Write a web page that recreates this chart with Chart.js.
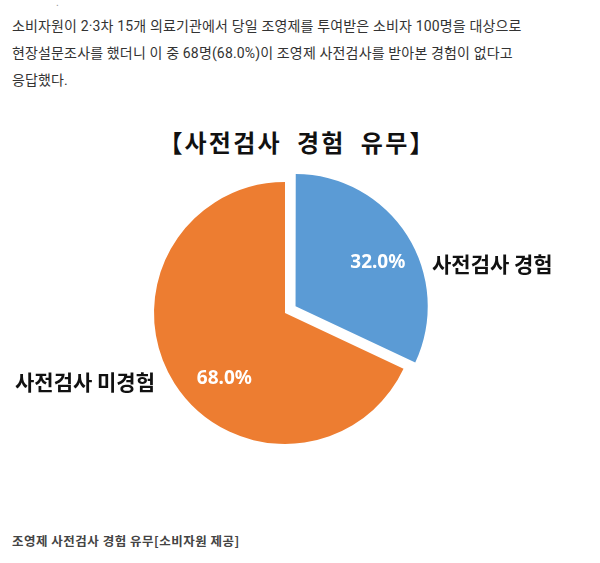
<!DOCTYPE html>
<html>
<head>
<meta charset="utf-8">
<script src="https://cdn.jsdelivr.net/npm/chart.js@4.4.1/dist/chart.umd.min.js"></script>
<style>
  body { margin: 0; background: #fff; font-family: "Noto Sans CJK KR", sans-serif; }
  .page { position: relative; width: 600px; height: 563px; overflow: hidden; }
  .lead { position: absolute; left: 12px; top: 13px; width: 590px; font-family: Roboto, "Noto Sans CJK KR", sans-serif; font-size: 14px; line-height: 27px; color: #333; margin: 0; letter-spacing: 0.15px; white-space: nowrap; }
  .dot { position: absolute; left: 56px; top: -6px; font-size: 10px; color: #999; }
  .title { position: absolute; left: 0; width: 594px; top: 124px; text-align: center; font-size: 24px; font-weight: bold; color: #111; letter-spacing: 2.2px; }
  #wrap { position: absolute; left: 0; top: 100px; width: 600px; height: 400px; }
  .caption { position: absolute; left: 12px; top: 531px; font-size: 12.5px; font-weight: bold; color: #444; letter-spacing: 0.5px; }
</style>
</head>
<body>
<div class="page">
  <span class="dot">.</span>
  <p class="lead">소비자원이 2·3차 15개 의료기관에서 당일 조영제를 투여받은 소비자 100명을 대상으로<br>현장설문조사를 했더니 이 중 68명(68.0%)이 조영제 사전검사를 받아본 경험이 없다고<br>응답했다.</p>
  <div class="title">【사전검사&nbsp; 경험&nbsp; 유무】</div>
  <div id="wrap"><canvas id="my-chart" width="600" height="400"></canvas></div>
  <div class="caption">조영제 사전검사 경험 유무[소비자원 제공]</div>
</div>
<script>
const categories = ['사전검사 경험', '사전검사 미경험'];
const shares = [32.0, 68.0];
const colors = ['#5B9BD5', '#ED7D31'];

// where each label sits: fraction of the slice angle, fraction of radius
const labelSpots = [
    { along: 0.54, depth: 0.71, outX: 432, outY: 164, align: 'left' },
    { along: 0.44, depth: 0.68, outX: 155, outY: 282, align: 'right' }
];

const pieLabels = {
    id: 'pieLabels',
    afterDatasetsDraw(chart) {
        const ctx = chart.ctx;
        const arcs = chart.getDatasetMeta(0).data;
        ctx.save();
        ctx.textBaseline = 'middle';
        arcs.forEach((arc, i) => {
            const p = arc.getProps(['x', 'y', 'startAngle', 'endAngle', 'outerRadius'], true);
            const spot = labelSpots[i];
            // arc is drawn pushed out by offset / 4 along its mid angle
            const mid = (p.startAngle + p.endAngle) / 2;
            const push = (arc.options.offset || 0) / 4;
            const cx = p.x + Math.cos(mid) * push;
            const cy = p.y + Math.sin(mid) * push;
            const a = p.startAngle + (p.endAngle - p.startAngle) * spot.along;
            const r = p.outerRadius * spot.depth;
            ctx.fillStyle = '#fff';
            ctx.textAlign = 'center';
            ctx.font = 'bold 19px "Noto Sans", sans-serif';
            ctx.fillText(shares[i].toFixed(1) + '%', cx + Math.cos(a) * r, cy + Math.sin(a) * r);

            ctx.fillStyle = '#111';
            ctx.textAlign = spot.align;
            ctx.font = 'bold 21px "Noto Sans CJK KR", sans-serif';
            ctx.fillText(categories[i], spot.outX, spot.outY);
        });
        ctx.restore();
    }
};

const ctx = document.getElementById('my-chart').getContext('2d');
const chart = new Chart(ctx, {
    type: 'pie',
    data: {
        labels: categories,
        datasets: [
            {
                data: shares,
                backgroundColor: colors,
                borderWidth: 0,
                offset: [50, 0],
                hoverOffset: 0
            }
        ]
    },
    options: {
        responsive: false,
        animation: false,
        radius: 131,
        layout: { padding: { left: 0, right: 30, top: 26, bottom: 0 } },
        plugins: {
            legend: { display: false },
            tooltip: { enabled: false }
        }
    },
    plugins: [pieLabels]
});
</script>
</body>
</html>
